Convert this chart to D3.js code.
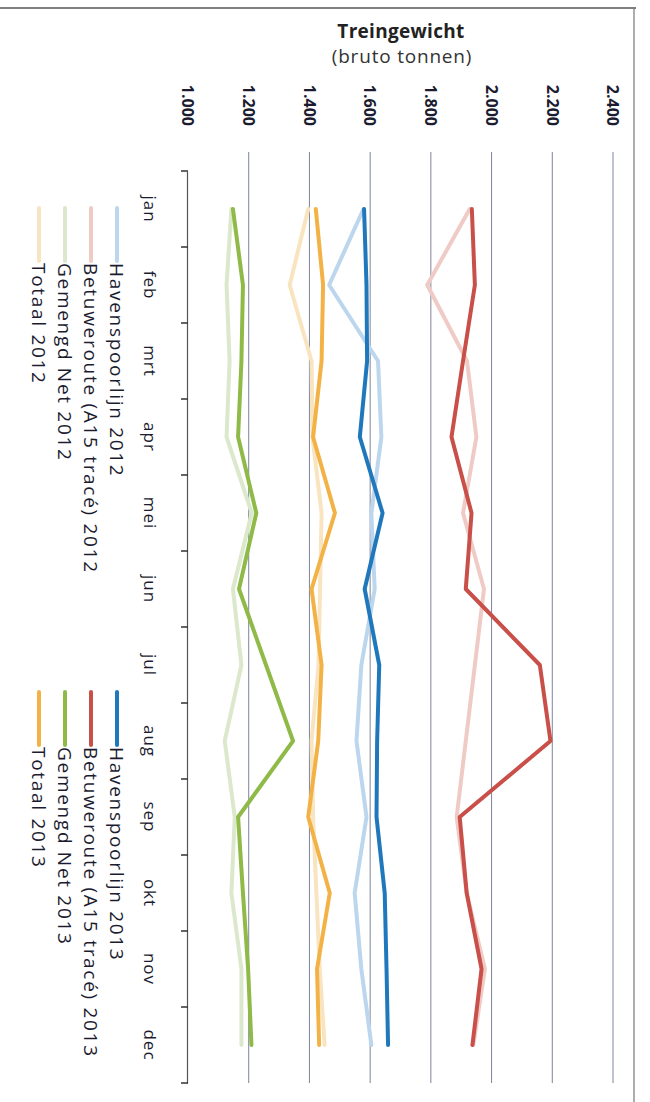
<!DOCTYPE html>
<html><head><meta charset="utf-8">
<script src="https://cdn.jsdelivr.net/npm/d3@7"></script>
<style>html,body{margin:0;padding:0;background:#fff;}svg{display:block;}</style>
</head><body>
<svg id="c" width="650" height="1102"></svg>
<script>
const months = ["jan","feb","mrt","apr","mei","jun","jul","aug","sep","okt","nov","dec"];
const valueTicks = [1000,1200,1400,1600,1800,2000,2200,2400];

const hav2012  = [1578,1465,1626,1637,1604,1615,1571,1555,1588,1549,1571,1604];
const betu2012 = [1928,1788,1919,1950,1906,1975,1945,1915,1885,1918,1978,1940];
const gem2012  = [1143,1127,1137,1127,1210,1148,1176,1121,1154,1143,1176,1176];
const tot2012  = [1396,1335,1407,1410,1440,1435,1430,1407,1412,1423,1434,1450];

const hav2013  = [1580,1588,1590,1566,1641,1582,1630,1623,1621,1648,1654,1659];
const betu2013 = [1935,1945,1906,1868,1934,1915,2159,2194,1895,1918,1967,1937];
const gem2013  = [1148,1181,1176,1165,1225,1168,1257,1346,1165,1181,1198,1209];
const tot2013  = [1421,1445,1440,1412,1484,1407,1440,1429,1396,1467,1425,1432];

const series = [
  {name:"Havenspoorlijn 2012", values:hav2012, color:"#bcd6ee", group:0, row:0},
  {name:"Betuweroute (A15 tracé) 2012", values:betu2012, color:"#f0cbc6", group:0, row:1},
  {name:"Gemengd Net 2012", values:gem2012, color:"#dbe8cb", group:0, row:2},
  {name:"Totaal 2012", values:tot2012, color:"#f9e4c0", group:0, row:3},
  {name:"Havenspoorlijn 2013", values:hav2013, color:"#2078bc", group:1, row:0},
  {name:"Betuweroute (A15 tracé) 2013", values:betu2013, color:"#c94f49", group:1, row:1},
  {name:"Gemengd Net 2013", values:gem2013, color:"#8fba48", group:1, row:2},
  {name:"Totaal 2013", values:tot2013, color:"#f3b246", group:1, row:3}
];

const nl = d3.formatLocale({decimal:",", thousands:".", grouping:[3], currency:["€",""]});
const fmt = nl.format(",.0f");

const svg = d3.select("#c");
const FONT = "'Open Sans', 'Noto Sans', sans-serif";

// frame
svg.append("line").attr("x1",0).attr("x2",636).attr("y1",8).attr("y2",8).attr("stroke","#555").attr("stroke-width",1.5);
svg.append("line").attr("x1",634).attr("x2",634).attr("y1",8).attr("y2",1102).attr("stroke","#777").attr("stroke-width",1.2);

// title (horizontal on page)
svg.append("text").attr("x",401).attr("y",38).attr("text-anchor","middle")
  .attr("font-family",FONT).attr("font-weight","bold").attr("font-size",19).attr("letter-spacing",0.3).attr("fill","#222")
  .text("Treingewicht");
svg.append("text").attr("x",402).attr("y",63).attr("text-anchor","middle")
  .attr("font-family",FONT).attr("font-size",19).attr("letter-spacing",0.8).attr("fill","#333")
  .text("(bruto tonnen)");

// chart drawn in the unrotated frame, then turned 90° clockwise
const g = svg.append("g").attr("transform","translate(650,0) rotate(90)");

const x = d3.scaleBand().domain(months).range([171,1083]);
const y = d3.scaleLinear().domain([1000,2400]).range([462,37]);
const cx = m => x(m) + x.bandwidth()/2;

// gridlines
g.append("g").selectAll("line").data(valueTicks.slice(1)).join("line")
  .attr("x1",152).attr("x2",1083)
  .attr("y1",d=>y(d)).attr("y2",d=>y(d))
  .attr("stroke","#7d849c").attr("stroke-width",1);

// value labels
g.append("g").selectAll("text").data(valueTicks).join("text")
  .attr("x",126).attr("y",d=>y(d)).attr("dy","0.36em").attr("text-anchor","end")
  .attr("font-family",FONT).attr("font-weight","bold").attr("font-size",16).attr("fill","#1c1c30")
  .text(d=>fmt(d));

// category axis
const xAxis = d3.axisBottom(x).tickSize(0).tickFormat("");
const ax = g.append("g").attr("transform",`translate(0,${y(1000)})`).call(xAxis);
ax.select(".domain").attr("stroke","#555").attr("stroke-width",1.2);
const bounds = months.map(m=>x(m)).concat([x.range()[1]]);
ax.selectAll("line.bt").data(bounds).join("line").attr("class","bt")
  .attr("x1",d=>d).attr("x2",d=>d).attr("y1",0).attr("y2",7)
  .attr("stroke","#333").attr("stroke-width",1.5);
g.append("g").selectAll("text").data(months).join("text")
  .attr("x",d=>cx(d)).attr("y",506).attr("text-anchor","middle")
  .attr("font-family",FONT).attr("font-size",17).attr("letter-spacing",1).attr("fill","#1c1c30")
  .text(d=>d);

// lines
const line = d3.line().x((d,i)=>cx(months[i])).y(d=>y(d));
g.append("g").selectAll("path").data(series).join("path")
  .attr("d",s=>line(s.values)).attr("fill","none")
  .attr("stroke",s=>s.color).attr("stroke-width",4)
  .attr("stroke-linejoin","round").attr("stroke-linecap","round");

// legend
const rowY = [533,559,585,611];
const groupX = [208,692];
const leg = g.append("g").selectAll("g").data(series).join("g")
  .attr("transform",s=>`translate(${groupX[s.group]},${rowY[s.row]})`);
leg.append("line").attr("x1",0).attr("x2",53).attr("y1",0).attr("y2",0)
  .attr("stroke",s=>s.color).attr("stroke-width",4).attr("stroke-linecap","round");
leg.append("text").attr("x",55).attr("y",0).attr("dy","0.36em")
  .attr("font-family",FONT).attr("font-size",19).attr("letter-spacing",1.7).attr("fill","#1c1c30")
  .text(s=>s.name);
</script>
</body></html>
